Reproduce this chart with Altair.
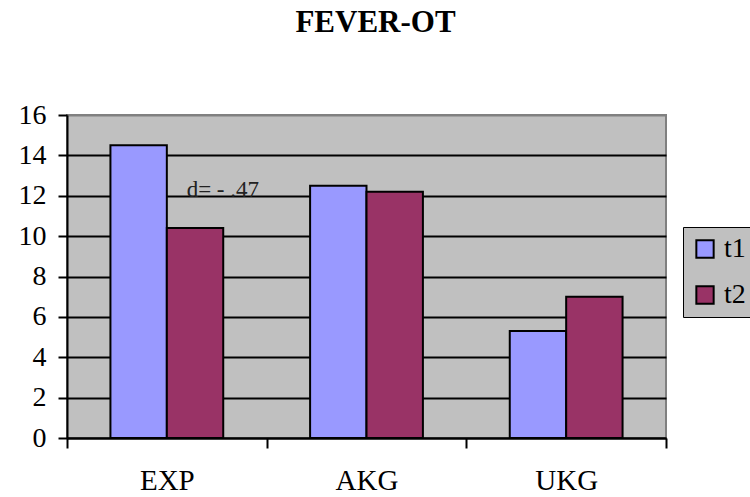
import altair as alt
import pandas as pd

groups = ["EXP", "AKG", "UKG"]
t1_values = [14.5, 12.5, 5.3]
t2_values = [10.4, 12.2, 7.0]
series = ["t1", "t2"]
colors = ["#9999FF", "#993366"]
note_text = ["d= - .47"]
note_group = ["EXP"]
note_y = [12.0]

rows = []
for g, a, b in zip(groups, t1_values, t2_values):
    rows.append({"group": g, "series": "t1", "value": a})
    rows.append({"group": g, "series": "t2", "value": b})
df = pd.DataFrame(rows)
note_df = pd.DataFrame({"group": note_group, "y": note_y, "text": note_text})

FONT = "Liberation Serif"

x_enc = alt.X(
    "group:N", sort=groups, title=None,
    scale=alt.Scale(paddingInner=0, paddingOuter=0),
    axis=alt.Axis(tickBand="extent", labelAngle=0, labelFont=FONT, labelFontSize=29,
                  labelColor="black", labelPadding=18, tickSize=10, tickColor="black",
                  tickWidth=2, domainColor="black", domainWidth=2, grid=False),
)

bars = alt.Chart(df).mark_bar(stroke="black", strokeWidth=2).encode(
    x=x_enc,
    xOffset=alt.XOffset("series:N", sort=series,
                        scale=alt.Scale(paddingInner=0, paddingOuter=0.77)),
    y=alt.Y("value:Q", title=None,
            scale=alt.Scale(domain=[0, 16], nice=False),
            axis=alt.Axis(values=list(range(0, 17, 2)), labelFont=FONT, labelFontSize=28,
                          labelColor="black", labelPadding=12, tickSize=9, tickColor="black",
                          tickWidth=2, domainColor="black", domainWidth=2,
                          gridColor=alt.condition("datum.value == 16", alt.value("#808080"), alt.value("black")),
                          gridWidth=2, gridOpacity=1)),
    color=alt.Color("series:N", sort=series, title=None,
                    scale=alt.Scale(domain=series, range=colors),
                    legend=alt.Legend(orient="none", legendX=616, legendY=112,
                                      fillColor="#C0C0C0", strokeColor="black",
                                      padding=8, symbolType="square", symbolSize=300,
                                      symbolStrokeColor="black", symbolStrokeWidth=2,
                                      labelFont=FONT, labelFontSize=28, labelColor="black",
                                      rowPadding=18, labelOffset=5)),
)

note = alt.Chart(note_df).mark_text(font=FONT, fontSize=23, color="#222222", dx=56,
                                    dy=1, baseline="alphabetic").encode(
    x=alt.X("group:N", sort=groups),
    y=alt.Y("y:Q"),
    text="text:N",
)

chart = alt.layer(bars, note).properties(
    width=599, height=323,
    autosize="none",
    padding={"left": 67, "top": 115, "right": 84, "bottom": 59},
    title=alt.TitleParams("FEVER-OT", font=FONT, fontSize=31, fontWeight="bold",
                          color="black", offset=62, anchor="middle", dx=9),
).configure_view(fill="#C0C0C0", stroke="#808080", strokeWidth=2)

chart.save("out.html", embed_options={"renderer": "svg", "actions": False})
